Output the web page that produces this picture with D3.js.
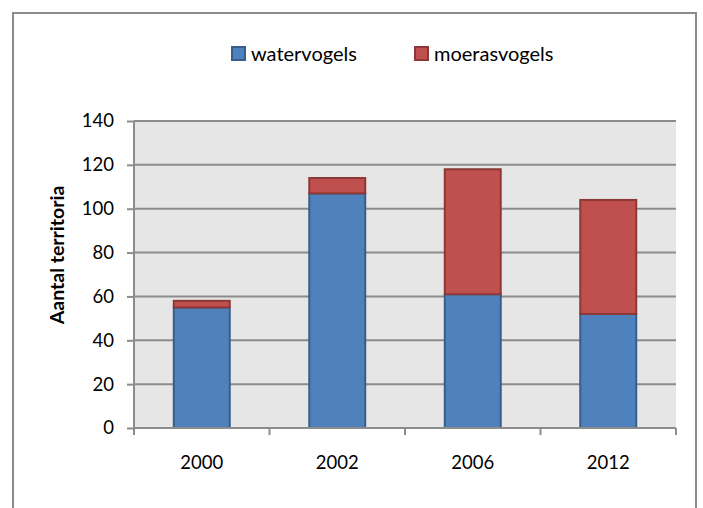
<!DOCTYPE html>
<html>
<head>
<meta charset="utf-8">
<script src="https://cdn.jsdelivr.net/npm/d3@7"></script>
<style>
  body { margin: 0; background: #fff; }
  text { font-family: Lato, "Liberation Sans", sans-serif; fill: #000; }
</style>
</head>
<body>
<div id="chart"></div>
<script>
var years = ["2000", "2002", "2006", "2012"]
var watervogels = [55, 107, 61, 52]
var moerasvogels = [3, 7, 57, 52]
var seriesNames = ["watervogels", "moerasvogels"]
var yTicks = [0, 20, 40, 60, 80, 100, 120, 140]

var W = 703, H = 508
var margin = {top: 121, right: 27, bottom: 80, left: 134},
    width = W - margin.left - margin.right,
    height = 428 - margin.top

var colors = {watervogels: "#4f81bd", moerasvogels: "#c0504d"}
var strokes = {watervogels: "#385d8a", moerasvogels: "#8c3836"}

var svg = d3.select("#chart").append("svg")
    .attr("width", W)
    .attr("height", H)

// outer chart border
svg.append("rect")
    .attr("x", 13).attr("y", 13)
    .attr("width", 683).attr("height", 520)
    .attr("fill", "none")
    .attr("stroke", "#8c8c8c")
    .attr("stroke-width", 2)

var g = svg.append("g")
    .attr("transform", "translate(" + margin.left + "," + margin.top + ")")

var x = d3.scaleBand().domain(years).range([0, width])
    .paddingInner(0.587).paddingOuter(0.2935)
var x0 = d3.scaleBand().domain(years).range([0, width])
var y = d3.scaleLinear().domain([0, 140]).range([height, 0])

g.append("rect")
    .attr("width", width).attr("height", height)
    .attr("fill", "#e6e6e6")

// gridlines
g.selectAll(".grid").data(yTicks.slice(1)).enter().append("line")
    .attr("x1", 0).attr("x2", width)
    .attr("y1", function(d) { return y(d) }).attr("y2", function(d) { return y(d) })
    .attr("stroke", "#8c8c8c").attr("stroke-width", 2)

var rows = years.map(function(yr, i) {
  return {year: yr, watervogels: watervogels[i], moerasvogels: moerasvogels[i]}
})
var stacked = d3.stack().keys(seriesNames)(rows)

g.selectAll(".series").data(stacked).enter().append("g")
  .each(function(s) {
    d3.select(this).selectAll("rect").data(s).enter().append("rect")
      .attr("x", function(d) { return x(d.data.year) })
      .attr("width", x.bandwidth())
      .attr("y", function(d) { return y(d[1]) })
      .attr("height", function(d) { return y(d[0]) - y(d[1]) })
      .attr("fill", colors[s.key])
      .attr("stroke", strokes[s.key])
      .attr("stroke-width", 2)
  })

// y axis
var yAxis = g.append("g")
    .call(d3.axisLeft(y).tickValues(yTicks).tickSize(7).tickPadding(13))
yAxis.select(".domain").attr("stroke", "#8c8c8c").attr("stroke-width", 2)
    .attr("d", "M0," + (height + 7) + "V0")
yAxis.selectAll(".tick line").attr("stroke", "#8c8c8c").attr("stroke-width", 2)
yAxis.selectAll("text").attr("font-size", 18.5)
    .style("font-family", "Lato, 'Liberation Sans', sans-serif").attr("fill", "#000")

// x axis
var xAxis = g.append("g").attr("transform", "translate(0," + height + ")")
xAxis.append("line").attr("x1", 0).attr("x2", width)
    .attr("stroke", "#8c8c8c").attr("stroke-width", 2)
xAxis.selectAll(".xt").data(years.concat(["end"])).enter().append("line")
    .attr("x1", function(d) { return d === "end" ? width : x0(d) })
    .attr("x2", function(d) { return d === "end" ? width : x0(d) })
    .attr("y1", 0).attr("y2", 7)
    .attr("stroke", "#8c8c8c").attr("stroke-width", 2)
xAxis.selectAll(".xl").data(years).enter().append("text")
    .attr("x", function(d) { return x(d) + x.bandwidth() / 2 })
    .attr("y", 41)
    .attr("text-anchor", "middle")
    .attr("font-size", 18.5)
    .text(function(d) { return d })

// y axis title
svg.append("text")
    .attr("transform", "translate(64,255) rotate(-90)")
    .attr("text-anchor", "middle")
    .attr("font-size", 19.5)
    .attr("font-weight", "bold")
    .text("Aantal territoria")

// legend
var legendX = [232, 415]
var legend = svg.selectAll(".legend").data(seriesNames).enter().append("g")
    .attr("transform", function(d, i) { return "translate(" + legendX[i] + ",47)" })
legend.append("rect")
    .attr("width", 13).attr("height", 13)
    .attr("fill", function(d) { return colors[d] })
    .attr("stroke", function(d) { return strokes[d] })
    .attr("stroke-width", 2)
legend.append("text")
    .attr("x", 19).attr("y", 14)
    .attr("font-size", 20)
    .text(function(d) { return d })
</script>
</body>
</html>
